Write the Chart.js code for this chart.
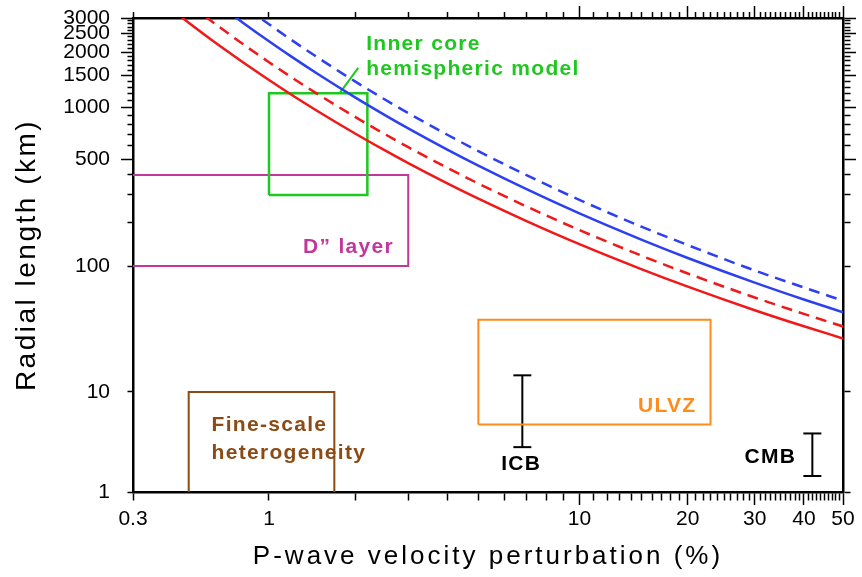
<!DOCTYPE html>
<html>
<head>
<meta charset="utf-8">
<script src="https://cdn.jsdelivr.net/npm/chart.js@4.4.1/dist/chart.umd.min.js"></script>
<style>
  html, body { margin: 0; padding: 0; background: #fff; }
  #wrap { width: 862px; height: 577px; }
</style>
</head>
<body>
<div id="wrap"><canvas id="chart"></canvas></div>
<script>
// x: P-wave velocity perturbation (%), y: radial length (km)
const curveX     = [0.45, 0.5, 0.6, 0.7, 0.8, 0.9, 1, 1.2, 1.5, 2, 2.5, 3, 4, 5, 7, 10, 15, 20, 30, 40, 50];
const redSolid   = [3156, 2840, 2367, 2029, 1775, 1578, 1420, 1183, 947, 710, 568, 473, 355, 284, 203, 142, 94.7, 71, 47.3, 35.5, 28.4];
const redDashed  = [3933, 3540, 2950, 2529, 2213, 1967, 1770, 1475, 1180, 885, 708, 590, 443, 354, 253, 177, 118, 88.5, 59, 44.3, 35.4];
const blueSolid  = [5067, 4560, 3800, 3257, 2850, 2533, 2280, 1900, 1520, 1140, 912, 760, 570, 456, 326, 228, 152, 114, 76, 57, 45.6];
const blueDashed = [6200, 5580, 4650, 3986, 3488, 3100, 2790, 2325, 1860, 1395, 1116, 930, 698, 558, 399, 279, 186, 140, 93, 70, 55.8];

// boxes: [from, to]
const innerCoreX = [1, 2.2];
const innerCoreY = [300, 1200];
const dLayerX = [0.3, 3];
const dLayerY = [100, 400];
const ulvzX = [5, 23];
const ulvzY = [5, 40];
const fineX = [0.5, 1.7];
const fineY = [1, 10];
const pointerX = [1.77, 2.05];
const pointerY = [1200, 1650];

// error bars: [x, low, high]
const icbBar = [6.8, 3, 14];
const cmbBar = [42, 1.5, 4.1];

const xTicks = [0.3, 1, 2, 3, 4, 5, 6, 7, 8, 9, 10, 11, 12, 13, 14, 15, 16, 17, 18, 19, 20,
  21, 22, 23, 24, 25, 26, 27, 28, 29, 30, 31, 32, 33, 34, 35, 36, 37, 38, 39, 40,
  41, 42, 43, 44, 45, 46, 47, 48, 49, 50];
const xLabels = [0.3, 1, 10, 20, 30, 40, 50];
const xLong = [10, 20, 30, 40, 50];
const yTicks = [1, 10, 100, 200, 300, 400, 500, 600, 700, 800, 900, 1000, 1100, 1200, 1300, 1400,
  1500, 1600, 1700, 1800, 1900, 2000, 2100, 2200, 2300, 2400, 2500, 2600, 2700, 2800, 2900, 3000];
const yLabels = [1, 10, 100, 500, 1000, 1500, 2000, 2500, 3000];
const yLong = [500, 1000, 1500, 2000, 2500, 3000];

const RED = '#f01818';
const BLUE = '#2d40f0';
const GREEN = '#1ec81e';
const MAGENTA = '#c2389a';
const ORANGE = '#ff8c1a';
const BROWN = '#8c4a14';

const notes = [
  { text: 'Inner core', x: 2.18, y: 2200, color: GREEN, align: 'left' },
  { text: 'hemispheric model', x: 2.18, y: 1620, color: GREEN, align: 'left' },
  { text: 'D\u201D layer', x: 1.9, y: 136, color: MAGENTA, align: 'center' },
  { text: 'ULVZ', x: 17.6, y: 7.5, color: ORANGE, align: 'center' },
  { text: 'Fine-scale', x: 0.612, y: 4.95, color: BROWN, align: 'left' },
  { text: 'heterogeneity', x: 0.612, y: 2.63, color: BROWN, align: 'left' },
  { text: 'ICB', x: 6.75, y: 2.02, color: '#000', align: 'center' },
  { text: 'CMB', x: 32.9, y: 2.35, color: '#000', align: 'center' }
];

// the original axes follow v^0.1, neither linear nor log
const POWER = 0.1;
const TITLE_SPACING = { x: '3px', y: '2.5px' };

class PowerScale extends Chart.LinearScale {
  getPixelForValue(value) {
    if (value === null || value === undefined || isNaN(value)) return NaN;
    const lo = Math.pow(this.min, POWER);
    const hi = Math.pow(this.max, POWER);
    return this.getPixelForDecimal((Math.pow(value, POWER) - lo) / (hi - lo));
  }
  getValueForPixel(pixel) {
    const lo = Math.pow(this.min, POWER);
    const hi = Math.pow(this.max, POWER);
    return Math.pow(lo + this.getDecimalForPixel(pixel) * (hi - lo), 1 / POWER);
  }
  drawTitle() {
    const ctx = this.ctx;
    ctx.save();
    ctx.letterSpacing = TITLE_SPACING[this.id] || '0px';
    super.drawTitle();
    ctx.restore();
  }
}
PowerScale.id = 'power';
PowerScale.defaults = {};
Chart.register(PowerScale);

Chart.defaults.font.family = '"Liberation Sans", Arial, sans-serif';
Chart.defaults.color = '#000';

const pts = (xs, ys) => xs.map((x, i) => ({ x: x, y: ys[i] }));

const box = (xr, yr, open) => {
  if (open === 'left') return pts([xr[0], xr[1], xr[1], xr[0]], [yr[1], yr[1], yr[0], yr[0]]);
  if (open === 'bottom') return pts([xr[0], xr[0], xr[1], xr[1]], [yr[0], yr[1], yr[1], yr[0]]);
  return pts([xr[0], xr[1], xr[1], xr[0], xr[0]], [yr[0], yr[0], yr[1], yr[1], yr[0]]);
};

const curve = (ys, color, dashed) => ({
  data: pts(curveX, ys),
  borderColor: color,
  borderWidth: 2.5,
  borderDash: dashed ? [11, 7] : [],
  pointRadius: 0,
  cubicInterpolationMode: 'monotone',
  xAxisID: 'x', yAxisID: 'y'
});

const outline = (data, color, width) => ({
  data: data,
  borderColor: color,
  borderWidth: width,
  pointRadius: 0,
  tension: 0,
  xAxisID: 'x', yAxisID: 'y'
});

const errorBar = (bar) => ({
  data: pts([bar[0], bar[0]], [bar[1], bar[2]]),
  borderColor: '#000',
  borderWidth: 2,
  pointStyle: 'line',
  pointRadius: 9,
  pointBorderColor: '#000',
  pointBorderWidth: 2,
  xAxisID: 'x', yAxisID: 'y'
});

const noteLabels = {
  id: 'noteLabels',
  afterDatasetsDraw(chart) {
    const { ctx, scales } = chart;
    ctx.save();
    ctx.font = 'bold 21px "Liberation Sans", Arial, sans-serif';
    ctx.letterSpacing = '1.3px';
    ctx.textBaseline = 'middle';
    notes.forEach(n => {
      ctx.fillStyle = n.color;
      ctx.textAlign = n.align;
      ctx.fillText(n.text, scales.x.getPixelForValue(n.x), scales.y.getPixelForValue(n.y));
    });
    ctx.restore();
  }
};

// short ticks are drawn as a dash on the axis end of the tick line
const tickDash = (longSet, outward, shortLen, fullLen) => (c) => {
  if (c.tick && longSet.includes(c.tick.value)) return [];
  return outward ? [shortLen, 40] : [0, fullLen - shortLen, 40];
};

// fixed box sizes so the plot area sits where the original one does
const fixSize = (prop, size) => (s) => {
  s[prop] = size;
  s.paddingTop = 0; s.paddingBottom = 0; s.paddingLeft = 0; s.paddingRight = 0;
};

const axisBase = (min, max, ticks) => ({
  type: 'power',
  min: min,
  max: max,
  bounds: 'data',
  afterBuildTicks: (axis) => { axis.ticks = ticks.map(v => ({ value: v })); },
  border: { display: true, color: '#000', width: 2.5 }
});

new Chart(document.getElementById('chart'), {
  type: 'line',
  data: {
    datasets: [
      curve(blueDashed, BLUE, true),
      curve(blueSolid, BLUE, false),
      curve(redDashed, RED, true),
      curve(redSolid, RED, false),
      outline(pts(pointerX, pointerY), GREEN, 2),
      outline(box(innerCoreX, innerCoreY), GREEN, 2.5),
      outline(box(dLayerX, dLayerY, 'left'), MAGENTA, 2),
      outline(box(ulvzX, ulvzY), ORANGE, 2),
      outline(box(fineX, fineY, 'bottom'), BROWN, 2),
      errorBar(icbBar),
      errorBar(cmbBar)
    ]
  },
  options: {
    responsive: true,
    maintainAspectRatio: false,
    animation: false,
    events: [],
    layout: { padding: 0 },
    plugins: { legend: { display: false }, tooltip: { enabled: false } },
    scales: {
      x: Object.assign(axisBase(0.3, 50, xTicks), {
        position: 'bottom',
        afterFit: fixSize('height', 85),
        grid: {
          drawOnChartArea: false, drawTicks: true, tickLength: 13, tickWidth: 1.5, tickColor: '#000',
          tickBorderDash: tickDash(xLong, true, 7, 13)
        },
        ticks: {
          autoSkip: false, maxRotation: 0, minRotation: 0, padding: 2,
          font: { size: 21 },
          callback: (v) => xLabels.includes(v) ? String(v) : ''
        },
        title: {
          display: true, text: 'P-wave velocity perturbation (%)',
          font: { size: 26 }, padding: { top: 0, bottom: 5 }
        }
      }),
      y: Object.assign(axisBase(1, 3000, yTicks), {
        position: 'left',
        afterFit: fixSize('width', 133),
        grid: {
          drawOnChartArea: false, drawTicks: true, tickLength: 12, tickWidth: 1.5, tickColor: '#000',
          tickBorderDash: tickDash(yLong, false, 5.5, 12)
        },
        ticks: {
          autoSkip: false, padding: 11,
          font: { size: 21 },
          callback: (v) => yLabels.includes(v) ? String(v) : ''
        },
        title: {
          display: true, text: 'Radial length (km)',
          font: { size: 28 }, padding: { top: 10, bottom: 0 }
        }
      }),
      xTop: Object.assign(axisBase(0.3, 50, xTicks), {
        position: 'top',
        afterFit: fixSize('height', 18),
        grid: {
          drawOnChartArea: false, drawTicks: true, tickLength: 12, tickWidth: 1.5, tickColor: '#000',
          tickBorderDash: tickDash(xLong, false, 6, 12)
        },
        ticks: { display: false, autoSkip: false }
      }),
      yRight: Object.assign(axisBase(1, 3000, yTicks), {
        position: 'right',
        afterFit: fixSize('width', 19),
        grid: {
          drawOnChartArea: false, drawTicks: true, tickLength: 13, tickWidth: 1.5, tickColor: '#000',
          tickBorderDash: tickDash(yLong, true, 6, 13)
        },
        ticks: { display: false, autoSkip: false }
      })
    }
  },
  plugins: [noteLabels]
});
</script>
</body>
</html>
